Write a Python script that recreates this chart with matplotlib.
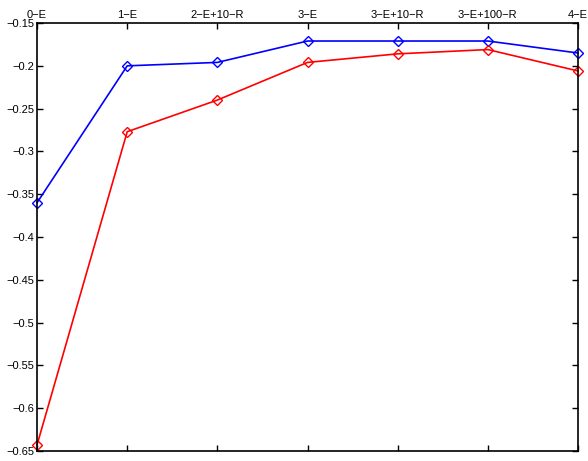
import matplotlib.pyplot as plt

# configurations along the x axis
labels = ['0\u2212E', '1\u2212E', '2\u2212E+10\u2212R', '3\u2212E', '3\u2212E+10\u2212R', '3\u2212E+100\u2212R', '4\u2212E']
blue_vals = [-0.360, -0.200, -0.196, -0.171, -0.171, -0.171, -0.185]
red_vals = [-0.643, -0.277, -0.240, -0.196, -0.186, -0.181, -0.206]

plt.rcParams['font.family'] = ['Liberation Sans', 'DejaVu Sans']

fig = plt.figure(figsize=(5.88, 4.61), dpi=100)
ax = fig.add_axes([0.063, 0.022, 0.920, 0.928])

x = list(range(len(labels)))
ax.plot(x, blue_vals, color='#0000ff', marker='D', markerfacecolor='none',
        markersize=5.5, linewidth=1.2, clip_on=False)
ax.plot(x, red_vals, color='#ff0000', marker='D', markerfacecolor='none',
        markersize=5.5, linewidth=1.2, clip_on=False)

ax.set_xlim(0, len(labels) - 1)
ax.set_ylim(-0.65, -0.15)
ax.set_xticks(x)
ax.set_xticklabels(labels)
ax.set_yticks([-0.65, -0.6, -0.55, -0.5, -0.45, -0.4, -0.35, -0.3, -0.25, -0.2, -0.15])
ax.set_yticklabels(['\u22120.65', '\u22120.6', '\u22120.55', '\u22120.5', '\u22120.45', '\u22120.4',
                    '\u22120.35', '\u22120.3', '\u22120.25', '\u22120.2', '\u22120.15'])

ax.tick_params(axis='both', direction='in', length=4, width=1, labelsize=8,
               top=True, bottom=True, left=True, right=True,
               labeltop=True, labelbottom=False, pad=2)
for s in ax.spines.values():
    s.set_linewidth(1.2)

fig.savefig('out.png', dpi=100)
